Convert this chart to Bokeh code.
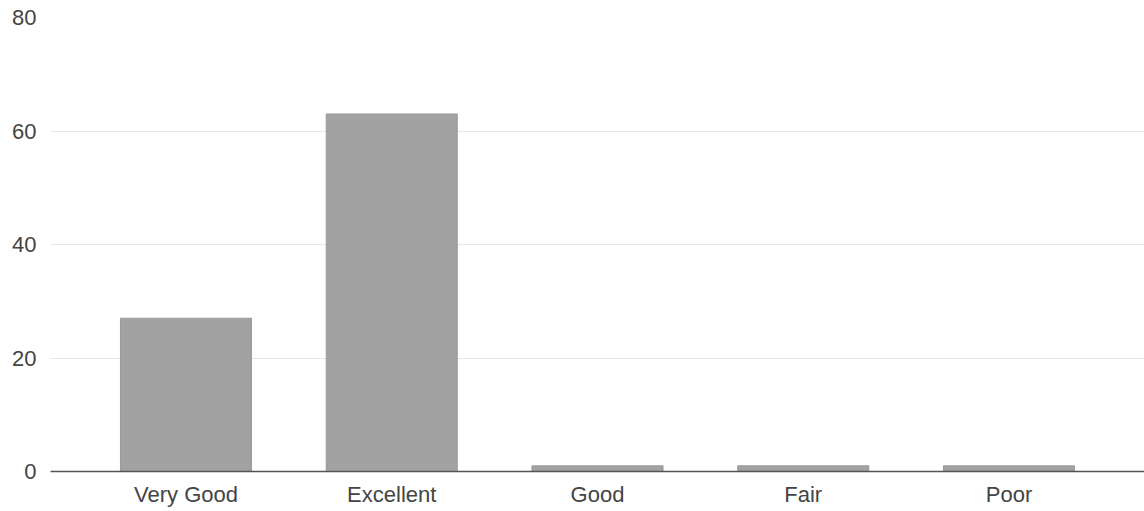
from bokeh.plotting import figure
from bokeh.models import FactorRange, Range1d, FixedTicker
from bokeh.embed import file_html
from bokeh.resources import INLINE

categories = ["Very Good", "Excellent", "Good", "Fair", "Poor"]
counts = [27, 63, 1, 1, 1]
y_ticks = [0, 20, 40, 60, 80]

FONT = "Liberation Sans"

p = figure(
    x_range=FactorRange(factors=categories, range_padding=0.0634, range_padding_units="percent"),
    y_range=Range1d(0, 80),
    width=1144, height=511,
    output_backend="svg", toolbar_location=None,
    min_border_left=50, min_border_right=0, min_border_top=17, min_border_bottom=40,
)
p.outline_line_color = None
p.background_fill_color = "white"
p.border_fill_color = "white"

p.vbar(x=categories, top=counts, width=0.637, fill_color="#a2a2a2",
       line_color="#999999", line_width=1)

p.xgrid.grid_line_color = None
p.ygrid.grid_line_color = "#e6e6e6"
p.ygrid.grid_line_width = 1
p.yaxis.ticker = FixedTicker(ticks=y_ticks)

p.yaxis.axis_line_color = None
p.yaxis.major_tick_line_color = None
p.yaxis.minor_tick_line_color = None
p.yaxis.major_tick_out = 0
p.yaxis.major_tick_in = 0
p.yaxis.major_label_standoff = 14
p.yaxis.major_label_text_font = FONT
p.yaxis.major_label_text_font_size = "22px"
p.yaxis.major_label_text_color = "#444444"

p.xaxis.axis_line_color = "#555555"
p.xaxis.axis_line_width = 1.5
p.xaxis.major_tick_line_color = None
p.xaxis.minor_tick_line_color = None
p.xaxis.major_tick_out = 0
p.xaxis.major_tick_in = 0
p.xaxis.major_label_standoff = 10
p.xaxis.major_label_text_font = FONT
p.xaxis.major_label_text_font_size = "22px"
p.xaxis.major_label_text_color = "#444444"

open("out.html", "w").write(file_html(p, INLINE))
